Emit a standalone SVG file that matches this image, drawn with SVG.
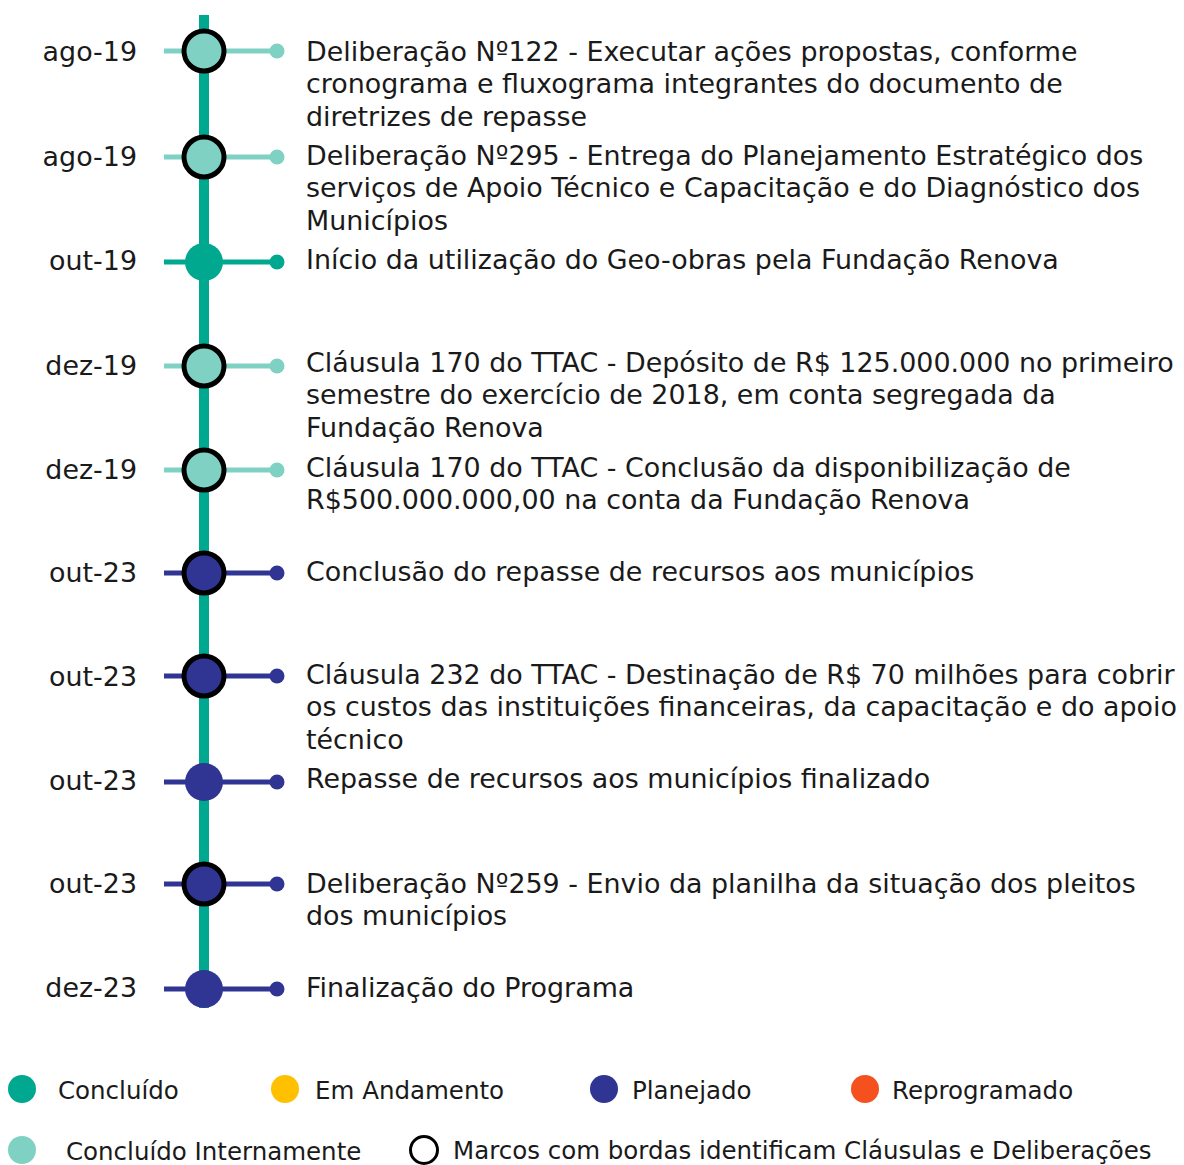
<svg xmlns="http://www.w3.org/2000/svg" width="1184" height="1165" viewBox="0 0 1184 1165">
<style>
text{font-family:"DejaVu Sans",Verdana,sans-serif;font-size:26.9px;fill:#1a1a1a}
.d{text-anchor:end}
.lg{font-size:24.5px}
.sl{stroke:#7fd1c4;stroke-width:5}
.st{stroke:#00a88f;stroke-width:5}
.sn{stroke:#303594;stroke-width:5}
.fl{fill:#7fd1c4}
.ft{fill:#00a88f}
.fn{fill:#303594}
.b{stroke:#000;stroke-width:5}
</style>
<rect width="1184" height="1165" fill="#fff"/>
<g id="connectors">
<line x1="204" y1="15" x2="204" y2="1008" stroke="#00a88f" stroke-width="10"/>
<line class="sl" x1="164" y1="51" x2="277" y2="51"/>
<line class="sl" x1="164" y1="157" x2="277" y2="157"/>
<line class="st" x1="164" y1="262" x2="277" y2="262"/>
<line class="sl" x1="164" y1="366" x2="277" y2="366"/>
<line class="sl" x1="164" y1="470" x2="277" y2="470"/>
<line class="sn" x1="164" y1="573" x2="277" y2="573"/>
<line class="sn" x1="164" y1="676" x2="277" y2="676"/>
<line class="sn" x1="164" y1="782" x2="277" y2="782"/>
<line class="sn" x1="164" y1="884" x2="277" y2="884"/>
<line class="sn" x1="164" y1="989" x2="277" y2="989"/>
</g>
<g id="m1"><circle class="fl b" cx="204" cy="51" r="20"/><circle class="fl" cx="277" cy="51" r="7.5"/><text class="d" x="137" y="61">ago-19</text><text x="306" y="61">Deliberação Nº122 - Executar ações propostas, conforme</text><text x="306" y="93">cronograma e fluxograma integrantes do documento de</text><text x="306" y="126">diretrizes de repasse</text></g>
<g id="m2"><circle class="fl b" cx="204" cy="157" r="20"/><circle class="fl" cx="277" cy="157" r="7.5"/><text class="d" x="137" y="166">ago-19</text><text x="306" y="165">Deliberação Nº295 - Entrega do Planejamento Estratégico dos</text><text x="306" y="197">serviços de Apoio Técnico e Capacitação e do Diagnóstico dos</text><text x="306" y="230">Municípios</text></g>
<g id="m3"><circle class="ft" cx="204" cy="262" r="19"/><circle class="ft" cx="277" cy="262" r="7.5"/><text class="d" x="137" y="270">out-19</text><text x="306" y="269">Início da utilização do Geo-obras pela Fundação Renova</text></g>
<g id="m4"><circle class="fl b" cx="204" cy="366" r="20"/><circle class="fl" cx="277" cy="366" r="7.5"/><text class="d" x="137" y="375">dez-19</text><text x="306" y="372">Cláusula 170 do TTAC - Depósito de R$ 125.000.000 no primeiro</text><text x="306" y="404">semestre do exercício de 2018, em conta segregada da</text><text x="306" y="437">Fundação Renova</text></g>
<g id="m5"><circle class="fl b" cx="204" cy="470" r="20"/><circle class="fl" cx="277" cy="470" r="7.5"/><text class="d" x="137" y="479">dez-19</text><text x="306" y="477">Cláusula 170 do TTAC - Conclusão da disponibilização de</text><text x="306" y="509">R$500.000.000,00 na conta da Fundação Renova</text></g>
<g id="m6"><circle class="fn b" cx="204" cy="573" r="20"/><circle class="fn" cx="277" cy="573" r="7.5"/><text class="d" x="137" y="582">out-23</text><text x="306" y="581">Conclusão do repasse de recursos aos municípios</text></g>
<g id="m7"><circle class="fn b" cx="204" cy="676" r="20"/><circle class="fn" cx="277" cy="676" r="7.5"/><text class="d" x="137" y="686">out-23</text><text x="306" y="684">Cláusula 232 do TTAC - Destinação de R$ 70 milhões para cobrir</text><text x="306" y="716">os custos das instituições financeiras, da capacitação e do apoio</text><text x="306" y="749">técnico</text></g>
<g id="m8"><circle class="fn" cx="204" cy="782" r="19"/><circle class="fn" cx="277" cy="782" r="7.5"/><text class="d" x="137" y="790">out-23</text><text x="306" y="788">Repasse de recursos aos municípios finalizado</text></g>
<g id="m9"><circle class="fn b" cx="204" cy="884" r="20"/><circle class="fn" cx="277" cy="884" r="7.5"/><text class="d" x="137" y="893">out-23</text><text x="306" y="893">Deliberação Nº259 - Envio da planilha da situação dos pleitos</text><text x="306" y="925">dos municípios</text></g>
<g id="m10"><circle class="fn" cx="204" cy="989" r="19"/><circle class="fn" cx="277" cy="989" r="7.5"/><text class="d" x="137" y="997">dez-23</text><text x="306" y="997">Finalização do Programa</text></g>
<g id="legend">
<circle class="ft" cx="22" cy="1089" r="14"/><text class="lg" x="58" y="1099">Concluído</text>
<circle fill="#ffc000" cx="285" cy="1089" r="14"/><text class="lg" x="315" y="1099">Em Andamento</text>
<circle class="fn" cx="604" cy="1089" r="14"/><text class="lg" x="632" y="1099">Planejado</text>
<circle fill="#f4511e" cx="865" cy="1089" r="14"/><text class="lg" x="892" y="1099">Reprogramado</text>
<circle class="fl" cx="22" cy="1150" r="14"/><text class="lg" x="66" y="1160">Concluído Internamente</text>
<circle fill="none" stroke="#000" stroke-width="3" cx="424" cy="1150" r="13.5"/><text class="lg" x="453" y="1159">Marcos com bordas identificam Cláusulas e Deliberações</text>
</g>
</svg>
